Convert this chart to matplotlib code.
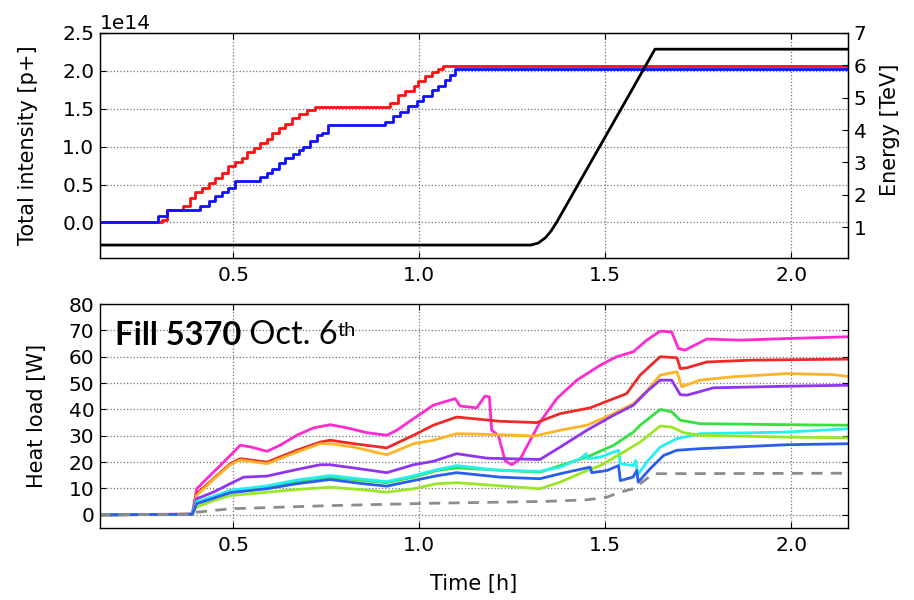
import matplotlib
matplotlib.use("Agg")
import matplotlib.pyplot as plt

plt.rcParams['font.family'] = ['DejaVu Sans']

# ---- top panel: beam intensity (steps) and energy ----
red_int_t = [0.14, 0.308, 0.323, 0.366, 0.384, 0.398, 0.416, 0.434, 0.452, 0.470, 0.487,
             0.505, 0.523, 0.537, 0.555, 0.573, 0.591, 0.604, 0.622, 0.640, 0.658, 0.676,
             0.698, 0.720, 0.922, 0.944, 0.962, 0.985, 0.998, 1.016, 1.034, 1.052, 1.065, 2.16]
red_int_v = [0.0, 0.03, 0.17, 0.22, 0.32, 0.40, 0.45, 0.52, 0.58, 0.65, 0.75,
             0.80, 0.85, 0.93, 0.98, 1.05, 1.10, 1.18, 1.25, 1.30, 1.38, 1.43,
             1.48, 1.52, 1.58, 1.68, 1.73, 1.80, 1.87, 1.93, 1.98, 2.03, 2.07, 2.05]

blue_int_t = [0.14, 0.297, 0.322, 0.411, 0.434, 0.452, 0.470, 0.487, 0.505, 0.573, 0.591,
              0.604, 0.622, 0.640, 0.662, 0.676, 0.689, 0.707, 0.725, 0.738, 0.756, 0.908,
              0.930, 0.948, 0.971, 0.993, 1.011, 1.034, 1.052, 1.070, 1.083, 1.097, 2.16]
blue_int_v = [0.0, 0.08, 0.17, 0.22, 0.28, 0.35, 0.40, 0.45, 0.55, 0.60, 0.65,
              0.70, 0.78, 0.85, 0.90, 0.95, 1.00, 1.08, 1.15, 1.18, 1.28, 1.33,
              1.40, 1.46, 1.53, 1.60, 1.67, 1.75, 1.80, 1.88, 1.95, 2.03, 2.02]

energy_t = [0.14, 1.300, 1.320, 1.340, 1.355, 1.370, 1.567, 1.634, 2.16]
energy_v = [0.45, 0.45, 0.51, 0.68, 0.89, 1.16, 5.14, 6.5, 6.5]

# ---- bottom panel: heat loads ----
magenta_t = [0.14, 0.39, 0.398, 0.402, 0.447, 0.492, 0.519, 0.546, 0.591, 0.626, 0.671, 0.716,
             0.761, 0.806, 0.859, 0.913, 0.940, 0.985, 1.038, 1.097, 1.110, 1.155, 1.177, 1.189,
             1.195, 1.213, 1.231, 1.249, 1.272, 1.325, 1.370, 1.424, 1.487, 1.531, 1.576, 1.612,
             1.648, 1.679, 1.697, 1.715, 1.773, 1.863, 1.988, 2.16]
magenta_v = [0.0, 0.3, 6.5, 9.9, 16.2, 22.5, 26.4, 25.8, 24.1, 26.4, 30.2, 33.0,
             34.2, 33.0, 31.2, 30.2, 32.1, 36.5, 41.6, 44.1, 41.3, 40.6, 45.1, 44.7,
             32.1, 30.2, 20.6, 19.0, 21.3, 35.2, 44.1, 51.1, 56.8, 60.0, 61.9, 66.3,
             69.7, 69.4, 63.1, 62.5, 66.7, 66.3, 66.9, 67.6]

red_t = [0.14, 0.39, 0.398, 0.402, 0.447, 0.492, 0.519, 0.591, 0.671, 0.734, 0.761, 0.824,
         0.913, 0.985, 1.038, 1.101, 1.218, 1.316, 1.379, 1.460, 1.505, 1.558, 1.594, 1.648,
         1.693, 1.702, 1.720, 1.773, 1.890, 2.16]
red_v = [0.0, 0.2, 5.5, 8.0, 13.7, 19.4, 21.3, 20.0, 24.5, 27.6, 28.3, 27.0,
         25.4, 30.2, 34.0, 37.1, 35.5, 35.0, 38.4, 40.6, 43.1, 46.0, 53.0, 60.0,
         59.6, 55.5, 55.8, 58.0, 58.7, 59.1]

orange_t = [0.14, 0.39, 0.398, 0.402, 0.447, 0.492, 0.519, 0.591, 0.671, 0.734, 0.761, 0.824,
            0.913, 0.985, 1.038, 1.101, 1.218, 1.310, 1.379, 1.451, 1.523, 1.576, 1.612, 1.648,
            1.693, 1.706, 1.755, 1.845, 1.988, 2.114, 2.16]
orange_v = [0.0, 0.2, 5.0, 7.4, 13.4, 19.0, 20.8, 19.4, 23.8, 27.0, 27.0, 25.7,
            22.8, 27.0, 28.3, 30.8, 30.4, 29.9, 32.1, 34.0, 38.4, 42.2, 47.0, 53.0,
            54.3, 48.6, 51.1, 52.4, 53.6, 53.2, 52.4]

purple_t = [0.14, 0.39, 0.398, 0.402, 0.447, 0.492, 0.528, 0.591, 0.671, 0.734, 0.761, 0.824,
            0.913, 0.985, 1.038, 1.101, 1.182, 1.325, 1.379, 1.451, 1.523, 1.576, 1.616, 1.648,
            1.679, 1.702, 1.720, 1.791, 1.988, 2.16]
purple_v = [0.0, 0.2, 4.5, 6.1, 8.6, 11.8, 14.3, 14.7, 17.2, 19.0, 19.0, 17.8,
            16.0, 19.0, 20.3, 23.2, 21.5, 21.0, 25.7, 32.1, 37.8, 41.6, 47.3, 51.1,
            51.1, 45.6, 45.4, 48.2, 48.8, 49.2]

green_t = [0.14, 0.39, 0.398, 0.402, 0.447, 0.492, 0.591, 0.671, 0.761, 0.850, 0.913, 0.985,
           1.047, 1.101, 1.325, 1.379, 1.451, 1.523, 1.576, 1.594, 1.648, 1.679, 1.702, 1.755,
           1.988, 2.16]
green_v = [0.0, 0.2, 3.5, 4.8, 6.7, 8.9, 10.5, 12.7, 14.3, 13.0, 12.2, 14.3,
           16.8, 17.8, 16.2, 18.7, 21.9, 26.4, 31.4, 34.0, 40.0, 39.1, 35.9, 34.6,
           34.2, 34.0]

cyan_t = [0.14, 0.39, 0.398, 0.402, 0.447, 0.492, 0.591, 0.671, 0.761, 0.850, 0.913, 0.985,
          1.038, 1.101, 1.218, 1.325, 1.379, 1.433, 1.449, 1.452, 1.487, 1.536, 1.541, 1.575,
          1.582, 1.588, 1.612, 1.648, 1.693, 1.755, 1.988, 2.16]
cyan_v = [0.0, 0.2, 3.5, 5.0, 7.0, 9.3, 11.0, 13.2, 14.9, 13.5, 12.6, 14.8,
          16.8, 18.7, 16.8, 16.5, 18.1, 21.3, 23.2, 21.3, 21.9, 24.5, 19.4, 18.7,
          20.6, 15.2, 20.0, 25.7, 28.9, 30.8, 31.4, 32.7]

ygreen_t = [0.14, 0.39, 0.398, 0.402, 0.447, 0.492, 0.591, 0.671, 0.761, 0.850, 0.913, 0.985,
            1.047, 1.101, 1.325, 1.379, 1.451, 1.487, 1.540, 1.594, 1.648, 1.679, 1.711, 1.755,
            1.988, 2.16]
ygreen_v = [0.0, 0.2, 2.0, 2.9, 5.4, 7.3, 8.6, 9.6, 10.5, 9.5, 8.6, 9.9,
            11.8, 12.2, 9.9, 12.4, 16.8, 18.7, 23.0, 27.6, 33.7, 33.3, 31.2, 30.2,
            29.5, 29.2]

blue_t = [0.14, 0.39, 0.398, 0.402, 0.492, 0.591, 0.671, 0.761, 0.850, 0.913, 0.985, 1.047,
          1.101, 1.218, 1.325, 1.379, 1.460, 1.464, 1.505, 1.536, 1.541, 1.575, 1.585, 1.589,
          1.621, 1.657, 1.693, 1.755, 1.988, 2.16]
blue_v = [0.0, 0.2, 3.0, 4.2, 8.4, 9.9, 11.8, 13.4, 11.8, 10.9, 13.0, 14.8,
          16.0, 14.3, 13.7, 15.6, 18.1, 16.0, 16.8, 18.7, 13.0, 14.3, 16.8, 12.4,
          17.5, 22.5, 24.5, 25.1, 26.6, 27.0]

model_t = [0.14, 0.39, 0.402, 0.492, 0.761, 1.038, 1.343, 1.451, 1.505, 1.540, 1.576, 1.594,
           1.630, 2.16]
model_v = [0.0, 0.2, 1.0, 2.3, 3.5, 4.4, 5.1, 5.7, 6.7, 8.6, 9.9, 11.8, 15.6, 15.8]

heat_lines = [
    (magenta_t, magenta_v, '#ff2ad0'),
    (red_t, red_v, '#f02828'),
    (orange_t, orange_v, '#ffb327'),
    (purple_t, purple_v, '#8f35ef'),
    (green_t, green_v, '#35e040'),
    (cyan_t, cyan_v, '#25f0f0'),
    (ygreen_t, ygreen_v, '#99e825'),
    (blue_t, blue_v, '#2a5ef0'),
]

xlim = (0.142, 2.153)
note_font = ['Lato', 'DejaVu Sans']

fig = plt.figure(figsize=(9.14, 6), dpi=100)
ax1 = fig.add_axes([0.1094, 0.57, 0.8184, 0.375])
ax2 = fig.add_axes([0.1094, 0.12, 0.8184, 0.3733])


def style_axis(ax):
    ax.grid(True, color='0.45', linestyle=':', linewidth=0.9)
    ax.tick_params(direction='in', length=4, labelsize=14.5, top=True, pad=6)
    for sp in ax.spines.values():
        sp.set_linewidth(1.0)
    ax.set_xlim(*xlim)
    ax.set_xticks([0.5, 1.0, 1.5, 2.0])


# top panel
ax1.step(red_int_t, [v * 1e14 for v in red_int_v], where='post', color='#ff1010', lw=2)
ax1.step(blue_int_t, [v * 1e14 for v in blue_int_v], where='post', color='#1010ff', lw=2)
ax1.set_ylim(-0.47e14, 2.5e14)
ax1.set_yticks([0, 0.5e14, 1.0e14, 1.5e14, 2.0e14, 2.5e14])
style_axis(ax1)
ax1.tick_params(axis='y', pad=4, right=False)
ax1.yaxis.get_offset_text().set_fontsize(14.5)
ax1.set_ylabel('Total intensity [p+]', fontsize=15)
ax1.yaxis.set_label_coords(-0.083, 0.5)

ax1b = ax1.twinx()
ax1b.plot(energy_t, energy_v, color='black', lw=2)
ax1b.set_ylim(0.05, 7)
ax1b.set_yticks([1, 2, 3, 4, 5, 6, 7])
ax1b.tick_params(direction='in', length=4, labelsize=14.5, pad=4)
ax1b.set_ylabel('Energy [TeV]', fontsize=15)
ax1b.yaxis.set_label_coords(1.043, 0.57)
ax1b.set_xlim(*xlim)

# bottom panel
for t, v, c in heat_lines:
    ax2.plot(t, v, color=c, lw=2)
ax2.plot(model_t, model_v, color='0.55', lw=2, linestyle=(0, (4, 3)))
ax2.set_ylim(-5, 80)
ax2.set_yticks(range(0, 81, 10))
style_axis(ax2)
ax2.tick_params(axis='y', pad=4, right=True)
ax2.set_ylabel('Heat load [W]', fontsize=15)
ax2.yaxis.set_label_coords(-0.071, 0.5)
ax2.set_xlabel('Time [h]', fontsize=15)
ax2.xaxis.set_label_coords(0.5, -0.205)

t1 = ax2.text(0.02, 0.817, 'Fill 5370', transform=ax2.transAxes, fontsize=23.5,
              family=note_font, weight='bold', va='baseline', ha='left')
t2 = ax2.annotate(' Oct. 6', xy=(1, 0), xycoords=t1, fontsize=23.5,
                  family=note_font, va='bottom', ha='left')
ax2.annotate('th', xy=(1, 0.95), xycoords=t2, fontsize=14.5,
             family=note_font, va='top', ha='left')

fig.savefig('out.png', dpi=100)
